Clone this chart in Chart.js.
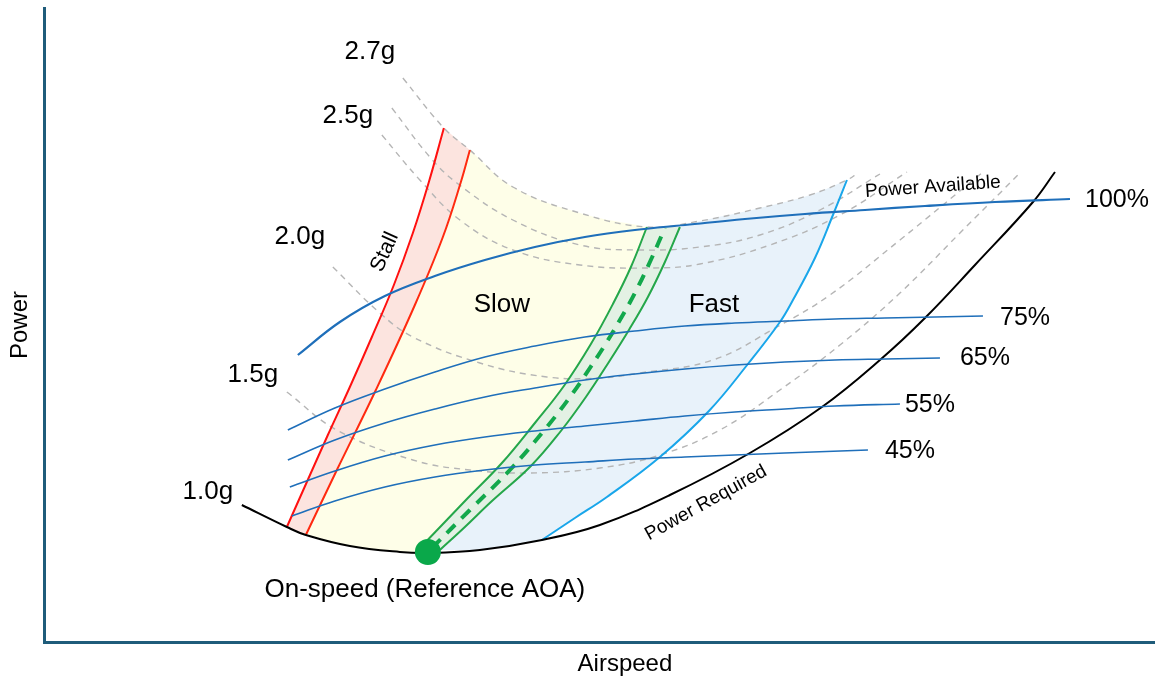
<!DOCTYPE html>
<html>
<head>
<meta charset="utf-8">
<title>Power vs Airspeed</title>
<script src="https://cdn.jsdelivr.net/npm/chart.js@4.4.1/dist/chart.umd.min.js"></script>
<style>
  html, body { margin: 0; padding: 0; background: #fff; overflow: hidden; }
  #wrap { width: 1155px; height: 679px; }
</style>
</head>
<body>
<div id="wrap"><canvas id="chart"></canvas></div>
<script>
// ===============================
// DATA (airspeed, power)
// ===============================
const powerRequired = [[197,137],[242,115],[261,107],[305,96],[355,90],[383,89],[435,92],[497,102],[555,117],[625,147],[705,189],[777,235],[835,282],[880,324],[930,377],[988,440],[1010,470]];

const load15 = [[242,250],[292,212],[368,182],[425,172],[485,169],[555,174],[615,187],[675,212],[735,252],[795,297],[855,349],[915,409],[975,469]];
const load20 = [[288,375],[335,329],[368,305],[435,279],[502,265],[555,264],[595,269],[668,282],[732,315],[785,347],[855,402],[938,470]];
const load23 = [[337,507],[375,462],[415,422],[468,392],[535,377],[605,374],[655,378],[725,397],[795,427],[862,470]];
const load25 = [[347,534],[385,485],[412,459],[468,422],[535,397],[595,392],[655,395],[715,407],[775,432],[835,468]];
const load27 = [[358,564],[399,514],[425,492],[468,455],[535,429],[602,415],[655,421],[715,434],[765,447],[802,462],[813,469]];

const avail100 = [[253,287],[295,320],[340,346],[390,366],[440,382],[490,395],[540,405],[590,412],[640,417],[700,423],[760,428],[820,432],[880,436],[950,440],[1025,443]];
const avail75 = [[243,212],[290,234],[340,253],[390,270],[440,285],[490,296],[540,305],[590,311],[640,316],[690,319],[740,321],[790,323],[840,324],[890,325],[938,326]];
const avail65 = [[243,182],[290,202],[340,219],[390,233],[440,245],[490,254],[540,262],[590,268],[640,273],[690,277],[740,280],[790,282],[840,283],[895,284]];
const avail55 = [[245,155],[290,171],[340,186],[390,197],[440,205],[490,211],[540,216],[590,221],[640,226],[690,230],[740,233],[790,236],[855,238]];
const avail45 = [[247,126],[290,141],[340,155],[390,165],[440,172],[490,177],[540,180],[590,183],[640,185],[690,187],[740,189],[823,192]];

const stallLeft = [[242,115],[262,160],[283,207],[305,255],[327,305],[349,357],[368,409],[384,460],[399,514]];
const stallRight = [[261,107],[292,172],[331,252],[370,337],[398,405],[416,460],[425,492]];

const onSpeedLow = [[376,95],[400,120],[422,143],[457,179],[490,219],[519,256],[546,298],[568,338],[586,375],[602,415]];
const onSpeedHigh = [[395,92],[420,115],[446,140],[486,176],[516,211],[541,245],[564,280],[584,312],[603,345],[620,380],[635,415]];
const onSpeedRef = [[387,94],[425,132],[465,172],[502,215],[528,249],[545,274],[560,297],[575,322],[590,349],[605,380],[620,414]];
const fastLimit = [[497,102],[530,124],[562,145],[615,185],[664,231],[703,278],[735,320],[748,342],[770,384],[788,427],[802,462]];

const onSpeedPoint = [[383,90]];

// ===============================
// TEXT
// ===============================
const FONT = "'Liberation Sans', Arial, sans-serif";
const notes = [
  { text: "2.7g", x: 325, y: 590, size: 26 },
  { text: "2.5g", x: 303, y: 526, size: 26 },
  { text: "2.0g", x: 255, y: 405, size: 26 },
  { text: "1.5g", x: 208, y: 267, size: 26 },
  { text: "1.0g", x: 163, y: 150, size: 26 },
  { text: "Stall", x: 340, y: 390, size: 21, rot: -66 },
  { text: "Slow", x: 457, y: 337, size: 26 },
  { text: "Fast", x: 669, y: 337, size: 26 },
  { text: "Power Available", x: 888, y: 455, size: 19, rot: -4 },
  { text: "100%", x: 1040, y: 442, size: 25, align: "left" },
  { text: "75%", x: 955, y: 324, size: 25, align: "left" },
  { text: "65%", x: 915, y: 284, size: 25, align: "left" },
  { text: "55%", x: 860, y: 237, size: 25, align: "left" },
  { text: "45%", x: 840, y: 191, size: 25, align: "left" },
  { text: "Power Required", x: 661, y: 139, size: 19, rot: -29 },
  { text: "On-speed (Reference AOA)", x: 380, y: 52, size: 26 },
  { text: "Airspeed", x: 580, y: -22, size: 24 }
];

// ===============================
// HELPERS
// ===============================
const pts = arr => arr.map(p => ({ x: p[0], y: p[1] }));
const portion = (arr, x0, x1) => arr.filter(p => p[0] >= x0 && p[0] <= x1);
const rev = arr => arr.slice().reverse();

// join boundary pieces; repeating the ends keeps the corners sharp
function outline(pieces) {
  const out = [];
  pieces.forEach(piece => {
    out.push(piece[0], ...piece, piece[piece.length - 1]);
  });
  return out;
}

function curve(data, color, width, extra = {}) {
  return Object.assign({
    data: pts(data),
    borderColor: color,
    borderWidth: width,
    pointRadius: 0,
    fill: false,
    tension: 0.4,
    order: 5
  }, extra);
}

function region(data, color) {
  return {
    data: pts(data),
    borderWidth: 0,
    borderColor: "rgba(0,0,0,0)",
    backgroundColor: color,
    pointRadius: 0,
    fill: "shape",
    tension: 0.4,
    order: 20
  };
}

const stallBand = outline([stallLeft, rev(stallRight)]);
const slowRegion = outline([stallRight, portion(load27, 425, 602), rev(onSpeedLow), rev(portion(powerRequired, 261, 383))]);
const onSpeedBand = outline([onSpeedLow, rev(onSpeedHigh)]);
const fastRegion = outline([onSpeedHigh, portion(load27, 636, 802), rev(fastLimit), rev(portion(powerRequired, 396, 497))]);

const GRAY = "#b5b5b5";
const BLUE = "#1f6fba";
const dashed = { borderDash: [6, 5], order: 10 };

const datasets = [
  region(stallBand, "#fce4df"),
  region(slowRegion, "#fefee8"),
  region(onSpeedBand, "#e3f1e4"),
  region(fastRegion, "#e8f2fa"),

  curve(load15, GRAY, 1.4, dashed),
  curve(load20, GRAY, 1.4, dashed),
  curve(load23, GRAY, 1.4, dashed),
  curve(load25, GRAY, 1.4, dashed),
  curve(load27, GRAY, 1.4, dashed),

  curve(avail45, BLUE, 1.6),
  curve(avail55, BLUE, 1.6),
  curve(avail65, BLUE, 1.6),
  curve(avail75, BLUE, 1.6),
  curve(avail100, BLUE, 2.2),

  curve(powerRequired, "#000000", 2),
  curve(stallLeft, "#ff1010", 2),
  curve(stallRight, "#ff2a10", 2),
  curve(fastLimit, "#19a6ea", 2),
  curve(onSpeedLow, "#25a74a", 2),
  curve(onSpeedHigh, "#25a74a", 2),
  curve(onSpeedRef, "#12a84b", 4, { borderDash: [12, 9] }),

  {
    data: pts(onSpeedPoint),
    showLine: false,
    pointRadius: 13,
    pointBackgroundColor: "#0aa84a",
    pointBorderWidth: 0,
    order: 0
  }
];

// ===============================
// PLUGIN: text labels
// ===============================
const notesPlugin = {
  id: "notes",
  afterDatasetsDraw(chart) {
    const { ctx, scales } = chart;
    ctx.save();
    ctx.fillStyle = "#000";
    ctx.textBaseline = "middle";
    notes.forEach(n => {
      const px = scales.x.getPixelForValue(n.x);
      const py = scales.y.getPixelForValue(n.y);
      ctx.save();
      ctx.translate(px, py);
      if (n.rot) ctx.rotate(n.rot * Math.PI / 180);
      ctx.font = n.size + "px " + FONT;
      ctx.textAlign = n.align || "center";
      ctx.fillText(n.text, 0, 0);
      ctx.restore();
    });
    ctx.restore();
  }
};

// ===============================
// CHART
// ===============================
const AXIS = "#1f5c7a";

new Chart(document.getElementById("chart"), {
  type: "line",
  data: { datasets },
  options: {
    responsive: true,
    maintainAspectRatio: false,
    animation: false,
    layout: { autoPadding: false, padding: { top: 8, right: 0, bottom: 37, left: 0 } },
    plugins: {
      legend: { display: false },
      tooltip: { enabled: false }
    },
    scales: {
      x: {
        type: "linear",
        min: 0,
        max: 1110,
        grid: { display: false, drawTicks: false },
        ticks: { display: false },
        border: { display: true, color: AXIS, width: 3 },
        title: { display: false }
      },
      y: {
        type: "linear",
        min: 0,
        max: 634,
        grid: { display: false, drawTicks: false },
        ticks: { display: false },
        border: { display: true, color: AXIS, width: 3 },
        title: {
          display: true,
          text: "Power",
          color: "#000",
          font: { size: 24, family: FONT },
          padding: { top: 6, bottom: 10 }
        }
      }
    }
  },
  plugins: [notesPlugin]
});
</script>
</body>
</html>
